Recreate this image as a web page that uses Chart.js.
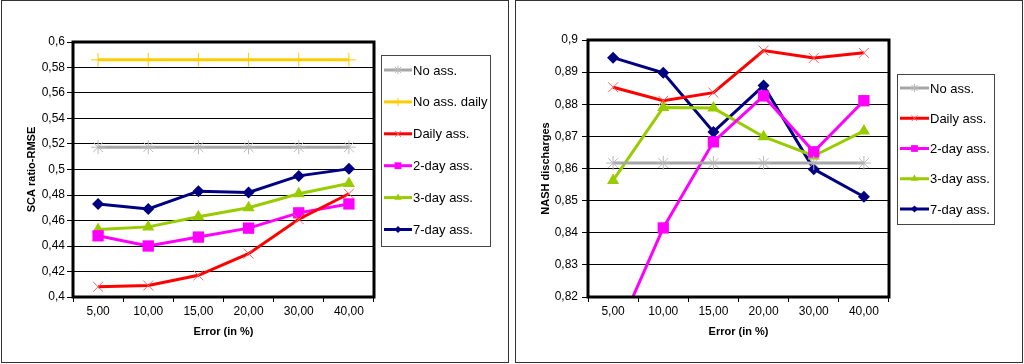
<!DOCTYPE html>
<html>
<head>
<meta charset="utf-8">
<script src="https://cdn.jsdelivr.net/npm/chart.js@4/dist/chart.umd.min.js"></script>
<style>
  html, body { margin: 0; padding: 0; background: #fff; }
  #wrap { position: relative; width: 1024px; height: 364px; overflow: hidden; }
  canvas { position: absolute; top: 0; }
  #c1 { left: 0; }
  #c2 { left: 512px; }
</style>
</head>
<body>
<div id="wrap">
  <canvas id="c1" width="512" height="364"></canvas>
  <canvas id="c2" width="512" height="364"></canvas>
</div>
<script>
var errorLabels = ['5,00', '10,00', '15,00', '20,00', '30,00', '40,00'];

// left chart: SCA ratio-RMSE
var scaNoAss = [0.5175, 0.5175, 0.5175, 0.5175, 0.5175, 0.5175];
var scaNoAssDaily = [0.586, 0.586, 0.586, 0.586, 0.586, 0.586];
var scaDaily = [0.408, 0.409, 0.417, 0.434, 0.461, 0.481];
var sca2day = [0.448, 0.440, 0.447, 0.454, 0.466, 0.473];
var sca3day = [0.453, 0.455, 0.463, 0.470, 0.481, 0.489];
var sca7day = [0.473, 0.469, 0.483, 0.482, 0.495, 0.5005];

// right chart: NASH discharges
var nashNoAss = [0.8617, 0.8617, 0.8617, 0.8617, 0.8617, 0.8617];
var nashDaily = [0.8853, 0.8811, 0.8836, 0.8967, 0.8944, 0.8960];
var nash2day = [0.806, 0.8415, 0.8683, 0.8826, 0.8652, 0.8811];
var nash3day = [0.8563, 0.8790, 0.8788, 0.8699, 0.8639, 0.8717];
var nash7day = [0.8945, 0.8898, 0.8714, 0.8858, 0.8598, 0.8512];

var styles = {
  noAss:      { color: '#a6a6a6', pointColor: '#b8b8b8', pointStyle: 'star', radius: 7, fill: false },
  noAssDaily: { color: '#ffcc00', pointColor: '#ffcc00', pointStyle: 'cross', radius: 7, fill: false },
  daily:      { color: '#ff0000', pointColor: '#ff6060', pointStyle: 'crossRot', radius: 7, fill: false },
  d2:         { color: '#ff00ff', pointColor: '#ff00ff', pointStyle: 'rect', radius: 8, fill: true },
  d3:         { color: '#99cc00', pointColor: '#99cc00', pointStyle: 'triangle', radius: 7, fill: true },
  d7:         { color: '#000080', pointColor: '#000080', pointStyle: 'rectRot', radius: 6, fill: true }
};

function ds(label, data, st) {
  return {
    label: label,
    data: data,
    borderColor: st.color,
    borderWidth: 3,
    pointStyle: st.pointStyle,
    pointRadius: st.radius,
    pointBorderColor: st.pointColor,
    pointBackgroundColor: st.fill ? st.pointColor : 'rgba(0,0,0,0)',
    pointBorderWidth: st.fill ? 0 : 1,
    tension: 0
  };
}

function fmt(v) {
  return parseFloat(v.toFixed(2)).toString().replace('.', ',');
}

var framePlugin = {
  id: 'frame',
  beforeDraw: function (chart, args, opts) {
    var ctx = chart.ctx;
    ctx.save();
    ctx.fillStyle = '#fff';
    ctx.fillRect(0, 0, chart.width, chart.height);
    ctx.strokeStyle = '#333';
    ctx.lineWidth = 1;
    ctx.strokeRect(opts.x + 0.5, opts.y + 0.5, opts.w, opts.h);
    ctx.restore();
  },
  afterDraw: function (chart, args, opts) {
    var ctx = chart.ctx;
    var a = chart.chartArea;
    ctx.save();
    ctx.strokeStyle = '#000';
    ctx.lineWidth = 3;
    ctx.strokeRect(a.left, a.top, a.right - a.left, a.bottom - a.top);

    // legend box
    var lg = opts.legend;
    ctx.lineWidth = 1;
    ctx.strokeStyle = '#444';
    ctx.strokeRect(lg.x + 0.5, lg.y + 0.5, lg.w, lg.h);
    ctx.font = '13px "Liberation Sans", Arial, sans-serif';
    ctx.textBaseline = 'middle';
    ctx.textAlign = 'left';
    chart.data.datasets.forEach(function (d, i) {
      var y = lg.row0 + i * lg.step;
      ctx.strokeStyle = d.borderColor;
      ctx.lineWidth = 3;
      ctx.beginPath();
      ctx.moveTo(lg.s0, y);
      ctx.lineTo(lg.s1, y);
      ctx.stroke();
      ctx.fillStyle = d.pointBackgroundColor;
      ctx.strokeStyle = d.pointBorderColor;
      ctx.lineWidth = d.pointBorderWidth;
      Chart.helpers.drawPoint(ctx, { pointStyle: d.pointStyle, radius: d.pointRadius * 0.6, rotation: 0, borderWidth: d.pointBorderWidth }, (lg.s0 + lg.s1) / 2, y);
      ctx.fillStyle = '#000';
      ctx.fillText(d.label, lg.s1 + 1, y + 1);
    });
    ctx.restore();
  }
};

function makeChart(id, datasets, yOpt, layout) {
  return new Chart(document.getElementById(id), {
    type: 'line',
    data: { labels: errorLabels, datasets: datasets },
    plugins: [framePlugin],
    options: {
      responsive: false,
      animation: false,
      devicePixelRatio: 1,
      layout: { padding: { left: 0, top: layout.top, right: layout.right, bottom: 0 } },
      scales: {
        x: {
          type: 'category',
          offset: true,
          grid: { offset: true, drawOnChartArea: false, drawTicks: true, tickLength: 5, color: '#000', lineWidth: 1 },
          border: { display: false },
          ticks: { color: '#000', padding: 2, font: { family: '"Liberation Sans", Arial, sans-serif', size: 12 }, maxRotation: 0, autoSkip: false },
          title: { display: true, text: 'Error (in %)', color: '#000', font: { family: '"Liberation Sans", Arial, sans-serif', size: 11, weight: 'bold' }, padding: { top: 0, bottom: 25 } },
          afterFit: function (s) { s.height = 67; }
        },
        y: {
          min: yOpt.min,
          max: yOpt.max,
          ticks: { stepSize: yOpt.step, color: '#000', padding: yOpt.tickPad, font: { family: '"Liberation Sans", Arial, sans-serif', size: 12 }, callback: function (v) { return fmt(v); } },
          grid: { color: '#000', lineWidth: 1, drawTicks: true, tickLength: 6 },
          border: { display: false },
          title: { display: true, text: yOpt.title, color: '#000', font: { family: '"Liberation Sans", Arial, sans-serif', size: 11, weight: 'bold' }, padding: { top: yOpt.titlePad, bottom: 0 } },
          afterFit: function (s) { s.width = layout.left; }
        }
      },
      plugins: {
        legend: { display: false },
        tooltip: { enabled: false },
        frame: layout.frame
      }
    }
  });
}

makeChart('c1', [
  ds('No ass.', scaNoAss, styles.noAss),
  ds('No ass. daily', scaNoAssDaily, styles.noAssDaily),
  ds('Daily ass.', scaDaily, styles.daily),
  ds('2-day ass.', sca2day, styles.d2),
  ds('3-day ass.', sca3day, styles.d3),
  ds('7-day ass.', sca7day, styles.d7)
], { min: 0.4, max: 0.6, step: 0.02, title: 'SCA ratio-RMSE', titlePad: 25, tickPad: 2 },
{ left: 73, top: 42, right: 138,
  frame: { x: 1, y: 0, w: 507, h: 362,
    legend: { x: 381, y: 55, w: 109, h: 191, row0: 70, step: 31.9, s0: 384, s1: 412 } } });

makeChart('c2', [
  ds('No ass.', nashNoAss, styles.noAss),
  ds('Daily ass.', nashDaily, styles.daily),
  ds('2-day ass.', nash2day, styles.d2),
  ds('3-day ass.', nash3day, styles.d3),
  ds('7-day ass.', nash7day, styles.d7)
], { min: 0.82, max: 0.9, step: 0.01, title: 'NASH discharges', titlePad: 27, tickPad: 4 },
{ left: 76, top: 40, right: 135,
  frame: { x: 3, y: 0, w: 507, h: 362,
    legend: { x: 385, y: 74, w: 97, h: 150, row0: 88, step: 30.25, s0: 388, s1: 417 } } });
</script>
</body>
</html>
